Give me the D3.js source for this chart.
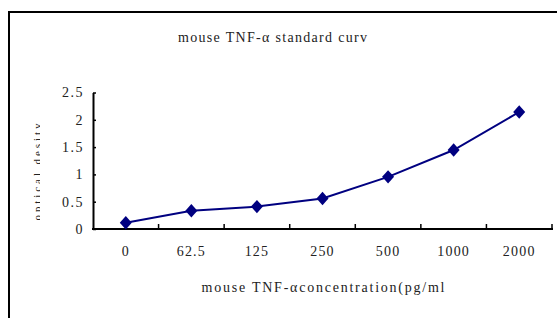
<!DOCTYPE html>
<html>
<head>
<meta charset="utf-8">
<script src="https://cdn.jsdelivr.net/npm/d3@7"></script>
<style>
  html, body { margin: 0; padding: 0; background: #fff; }
  svg { display: block; }
  text { font-family: "Liberation Serif", "DejaVu Serif", serif; fill: #222; }
</style>
</head>
<body>
<svg id="chart" width="557" height="318"></svg>
<script>
const categories = ["0", "62.5", "125", "250", "500", "1000", "2000"];
const odValues = [0.115, 0.335, 0.41, 0.56, 0.955, 1.447, 2.143];
const yTicks = [0, 0.5, 1, 1.5, 2, 2.5];
const yTickLabels = ["0", "0.5", "1", "1.5", "2", "2.5"];
const chartTitle = "mouse TNF-α  standard curv";
const xTitle = "mouse TNF-αconcentration(pg/ml";
const yTitle = "optical desity";

const svg = d3.select("#chart");
svg.append("rect").attr("width", 557).attr("height", 318).attr("fill", "#fff");

// outer frame (extends past the visible area on right/bottom)
svg.append("rect")
  .attr("x", 9).attr("y", 12).attr("width", 700).attr("height", 500)
  .attr("fill", "none").attr("stroke", "#000").attr("stroke-width", 2);

const plotLeft = 93, plotRight = 552, plotTop = 92.5, plotBottom = 229;

const x = d3.scaleBand().domain(categories).range([plotLeft, plotRight]).padding(0);
const y = d3.scaleLinear().domain([0, 2.5]).range([plotBottom, plotTop]);

// Y axis
const yAxis = d3.axisLeft(y)
  .tickValues(yTicks)
  .tickFormat((d, i) => yTickLabels[i])
  .tickSizeInner(-3).tickSizeOuter(0).tickPadding(9);
const gy = svg.append("g").attr("transform", `translate(${plotLeft},0)`).call(yAxis);
gy.select(".domain").attr("stroke", "#000").attr("stroke-width", 2);
gy.selectAll(".tick line").attr("stroke", "#000").attr("stroke-width", 1.5);
gy.selectAll(".tick text")
  .style("font-family", '"Liberation Serif", serif')
  .style("font-size", "14px").style("letter-spacing", "1.5px")
  .attr("fill", "#333");

// X axis (labels at category centres)
const xAxis = d3.axisBottom(x).tickSize(0).tickPadding(17);
const gx = svg.append("g").attr("transform", `translate(0,${plotBottom})`).call(xAxis);
gx.select(".domain").remove();
gx.selectAll(".tick text")
  .style("font-family", '"Liberation Serif", serif')
  .style("font-size", "14px").style("letter-spacing", "1.2px")
  .attr("fill", "#333");
gx.append("line").attr("x1", plotLeft - 1).attr("x2", plotRight + 1).attr("y1", 0).attr("y2", 0)
  .attr("stroke", "#000").attr("stroke-width", 2);
gx.selectAll("line.bt").data(categories).enter().append("line").attr("class", "bt")
  .attr("x1", d => x(d) + x.bandwidth()).attr("x2", d => x(d) + x.bandwidth())
  .attr("y1", 0).attr("y2", -5)
  .attr("stroke", "#000").attr("stroke-width", 1.5);

// titles
svg.append("text").attr("x", 272.5).attr("y", 41.5).attr("text-anchor", "middle")
  .style("font-size", "14px").attr("fill", "#333")
  .attr("textLength", 189).attr("lengthAdjust", "spacing")
  .text(chartTitle);
svg.append("text").attr("x", 323).attr("y", 291.5).attr("text-anchor", "middle")
  .style("font-size", "14px").attr("fill", "#333")
  .attr("textLength", 243).attr("lengthAdjust", "spacing")
  .text(xTitle);

// y title (rotated, partly cut off as in the reference)
svg.append("clipPath").attr("id", "yclip").append("rect")
  .attr("x", 30).attr("y", 100).attr("width", 10).attr("height", 140);
svg.append("g").attr("clip-path", "url(#yclip)")
  .append("text")
  .attr("transform", "translate(41,172) rotate(-90)")
  .attr("text-anchor", "middle")
  .style("font-size", "11px").attr("fill", "#888")
  .attr("textLength", 97).attr("lengthAdjust", "spacing")
  .text(yTitle);

// line
const cx = d => x(d) + x.bandwidth() / 2;
const line = d3.line().x((d, i) => cx(categories[i])).y(d => y(d));
svg.append("path").datum(odValues).attr("d", line)
  .attr("fill", "none").attr("stroke", "#000080").attr("stroke-width", 2);

// markers
const sym = d3.symbol().type(d3.symbolSquare).size(72);
svg.selectAll("path.pt").data(odValues).enter().append("path").attr("class", "pt")
  .attr("d", sym)
  .attr("transform", (d, i) => `translate(${cx(categories[i])},${y(d)}) scale(1,1.12) rotate(45)`)
  .attr("fill", "#000080");
</script>
</body>
</html>
